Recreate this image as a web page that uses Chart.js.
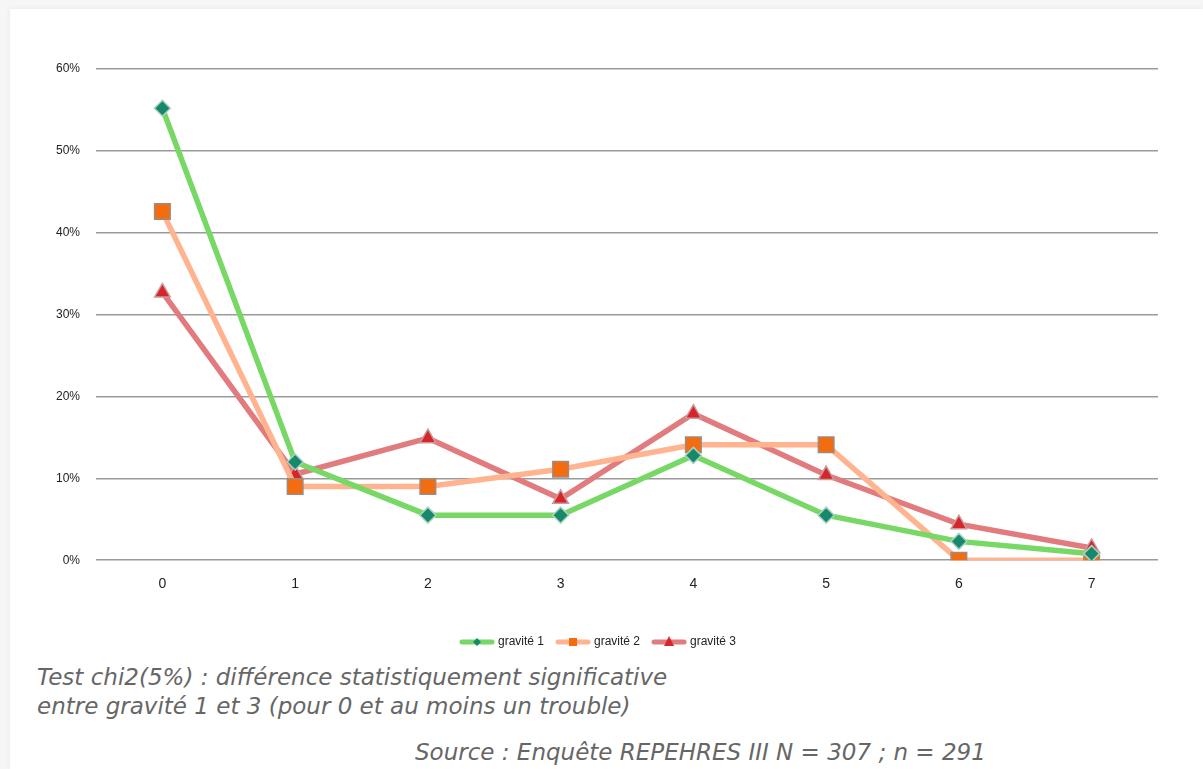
<!DOCTYPE html>
<html><head><meta charset="utf-8">
<script src="https://cdn.jsdelivr.net/npm/chart.js@4/dist/chart.umd.min.js"></script>
<style>
html,body{margin:0;padding:0;background:#f6f6f6;width:1203px;height:769px;overflow:hidden;}
#card{position:absolute;left:10px;top:9px;width:1193px;height:760px;background:#fff;box-shadow:0 0 6px rgba(0,0,0,0.06);}
#wrap{position:absolute;left:0;top:0;width:1190px;height:660px;}
.note{position:absolute;font-family:"DejaVu Sans",sans-serif;font-style:italic;font-weight:200;color:#666;font-size:23px;line-height:29px;white-space:nowrap;}
</style></head>
<body>
<div id="card"></div>
<div id="wrap"><canvas id="c"></canvas></div>
<div class="note" style="left:37px;top:663px;">Test chi2(5%) : différence statistiquement significative<br>entre gravité 1 et 3 (pour 0 et au moins un trouble)</div>
<div class="note" style="left:415px;top:738px;">Source : Enquête REPEHRES III N = 307 ; n = 291</div>
<script>
const categories = ['0','1','2','3','4','5','6','7'];
const gravite1 = [55.2, 12.0, 5.5, 5.5, 12.8, 5.5, 2.3, 0.8];
const gravite2 = [42.6, 9.0, 9.0, 11.1, 14.1, 14.1, 0, 0];
const gravite3 = [32.7, 10.5, 14.9, 7.5, 17.9, 10.4, 4.4, 1.5];
const seriesNames = ['gravité 1','gravité 2','gravité 3'];
const yTicks = [0,10,20,30,40,50,60];

const styles = [
  {line:'#77d866', fill:'#17886a', border:'#a9d2c4', shape:'rectRot', r:8},
  {line:'#ffb48f', fill:'#f46c10', border:'#a08a7c', shape:'rect', r:11},
  {line:'#e27b7d', fill:'#d6262c', border:'#c99a9a', shape:'triangle', r:9}
];

function legendIcon(s){
  const c=document.createElement('canvas'); c.width=36; c.height=14;
  const x=c.getContext('2d');
  x.strokeStyle=s.line; x.lineWidth=5; x.lineCap='round';
  x.beginPath(); x.moveTo(3,7); x.lineTo(33,7); x.stroke();
  x.fillStyle=s.fill;
  if(s.shape==='rectRot'){x.beginPath();x.moveTo(18,3);x.lineTo(22,7);x.lineTo(18,11);x.lineTo(14,7);x.closePath();x.fill();}
  else if(s.shape==='rect'){x.fillRect(14,3,8,8);}
  else {x.beginPath();x.moveTo(18,1);x.lineTo(23,11);x.lineTo(13,11);x.closePath();x.fill();}
  return c;
}

const data = [gravite1,gravite2,gravite3];
new Chart(document.getElementById('c'),{
  type:'line',
  data:{labels:categories,datasets:data.map((d,i)=>({
    label:seriesNames[i],data:d,borderColor:styles[i].line,borderWidth:5.5,
    pointStyle:styles[i].shape,pointRadius:styles[i].r,pointHoverRadius:styles[i].r,
    pointBackgroundColor:styles[i].fill,pointBorderColor:styles[i].border,pointBorderWidth:1.5,
    tension:0,fill:false
  }))},
  options:{
    responsive:true,maintainAspectRatio:false,animation:false,
    layout:{padding:{left:40,right:32,top:69,bottom:2}},
    plugins:{
      tooltip:{enabled:false},
      legend:{position:'bottom',labels:{
        font:{family:'"Liberation Sans", Arial, sans-serif',size:12},color:'#222',
        usePointStyle:true,pointStyleWidth:30,boxHeight:14,padding:14,
        generateLabels:(chart)=>seriesNames.map((n,i)=>({text:n,pointStyle:legendIcon(styles[i]),fillStyle:'transparent',strokeStyle:'transparent',lineWidth:0,datasetIndex:i,fontColor:'#222'}))
      }}
    },
    scales:{
      x:{offset:true,grid:{display:false},border:{display:false},
        afterFit:(s)=>{s.height+=21;},
        ticks:{font:{family:'"Liberation Sans", Arial, sans-serif',size:14},color:'#222',padding:8}},
      y:{min:0,max:60,afterBuildTicks:(ax)=>{ax.ticks=yTicks.map(v=>({value:v}));},
        grid:{color:'#9a9a9a',lineWidth:1.5,drawTicks:false},border:{display:false},
        ticks:{callback:v=>v+'%',font:{family:'"Liberation Sans", Arial, sans-serif',size:12},color:'#222',padding:16}}
    }
  }
});
</script>
</body></html>
